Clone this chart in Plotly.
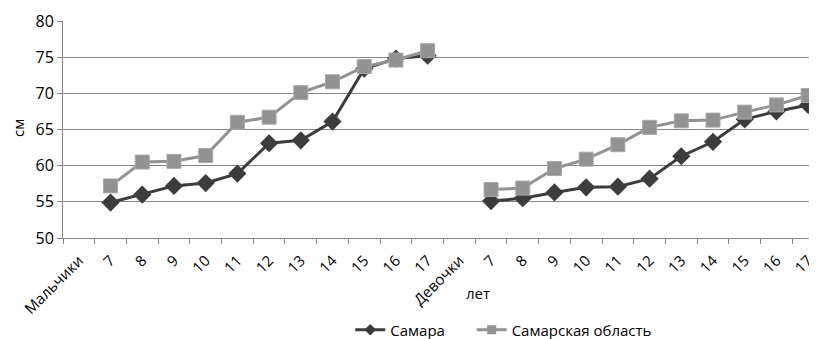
import plotly.graph_objects as go

categories = ["Мальчики", "7", "8", "9", "10", "11", "12", "13", "14", "15", "16", "17",
              "Девочки", "7", "8", "9", "10", "11", "12", "13", "14", "15", "16", "17"]
samara = [None, 54.9, 56.0, 57.2, 57.6, 58.9, 63.1, 63.5, 66.1, 73.4, 74.8, 75.2,
          None, 55.1, 55.5, 56.3, 57.0, 57.1, 58.2, 61.3, 63.3, 66.4, 67.5, 68.4]
oblast = [None, 57.2, 60.5, 60.6, 61.4, 66.0, 66.7, 70.1, 71.6, 73.7, 74.6, 75.9,
          None, 56.7, 56.9, 59.6, 60.9, 62.9, 65.3, 66.2, 66.3, 67.4, 68.4, 69.7]
series_names = ["Самара", "Самарская область"]
y_ticks = [50, 55, 60, 65, 70, 75, 80]

FONT = "Open Sans, Noto Sans, sans-serif"
DARK = "#3c3c3c"
GRAY = "#929292"
xs = list(range(len(categories)))

fig = go.Figure()
fig.add_trace(go.Scatter(
    x=xs, y=samara, name=series_names[0], mode="lines+markers",
    line=dict(color=DARK, width=3),
    marker=dict(symbol="diamond", size=14, color=DARK),
    connectgaps=False, showlegend=False))
fig.add_trace(go.Scatter(
    x=xs, y=oblast, name=series_names[1], mode="lines+markers",
    line=dict(color=GRAY, width=3),
    marker=dict(symbol="square", size=14, color=GRAY,
                line=dict(color="#a8a8a8", width=1)),
    connectgaps=False, showlegend=False))
# legend entries (smaller symbols, as in the reference legend)
fig.add_trace(go.Scatter(
    x=[None], y=[None], name=series_names[0], mode="lines+markers",
    line=dict(color=DARK, width=3),
    marker=dict(symbol="diamond", size=9, color=DARK), legend="legend"))
fig.add_trace(go.Scatter(
    x=[None], y=[None], name=series_names[1], mode="lines+markers",
    line=dict(color=GRAY, width=3),
    marker=dict(symbol="square", size=9, color=GRAY), legend="legend2"))

legend_common = dict(orientation="h", xanchor="left", y=-0.424, yanchor="middle",
                     font=dict(size=15), bgcolor="rgba(0,0,0,0)")

fig.update_layout(
    width=809, height=331,
    margin=dict(l=55, r=0, t=13, b=101, autoexpand=False),
    paper_bgcolor="white", plot_bgcolor="white",
    font=dict(family=FONT, size=15, color="#000000"),
    showlegend=True,
    legend=dict(x=0.381, **legend_common),
    legend2=dict(x=0.542, **legend_common),
    xaxis=dict(
        range=[-0.5, 23.28], automargin=False,
        tickmode="array", tickvals=xs, ticktext=categories,
        tickangle=-45, ticks="", showgrid=False, zeroline=False,
        showline=True, linecolor="#868686", linewidth=1,
        tickfont=dict(size=15), ticklabelstandoff=7,
        minor=dict(tickmode="array", tickvals=[i - 0.5 for i in range(len(categories) + 1)],
                   ticks="outside", ticklen=5, tickcolor="#868686", showgrid=False),
    ),
    yaxis=dict(
        range=[50, 80], tickmode="array", tickvals=y_ticks, automargin=False,
        ticks="outside", ticklen=5, tickcolor="#868686",
        showgrid=True, gridcolor="#868686", gridwidth=1,
        zeroline=False, showline=True, linecolor="#868686", linewidth=1,
        tickfont=dict(size=16),
    ),
    annotations=[
        dict(text="лет", xref="paper", yref="paper", x=0.55, y=-0.253,
             showarrow=False, font=dict(size=15), xanchor="center", yanchor="middle"),
        dict(text="см", xref="paper", yref="paper", x=-0.06, y=0.506, textangle=-90,
             showarrow=False, font=dict(size=15), xanchor="center", yanchor="middle"),
    ],
)

fig.write_html("out.html")
